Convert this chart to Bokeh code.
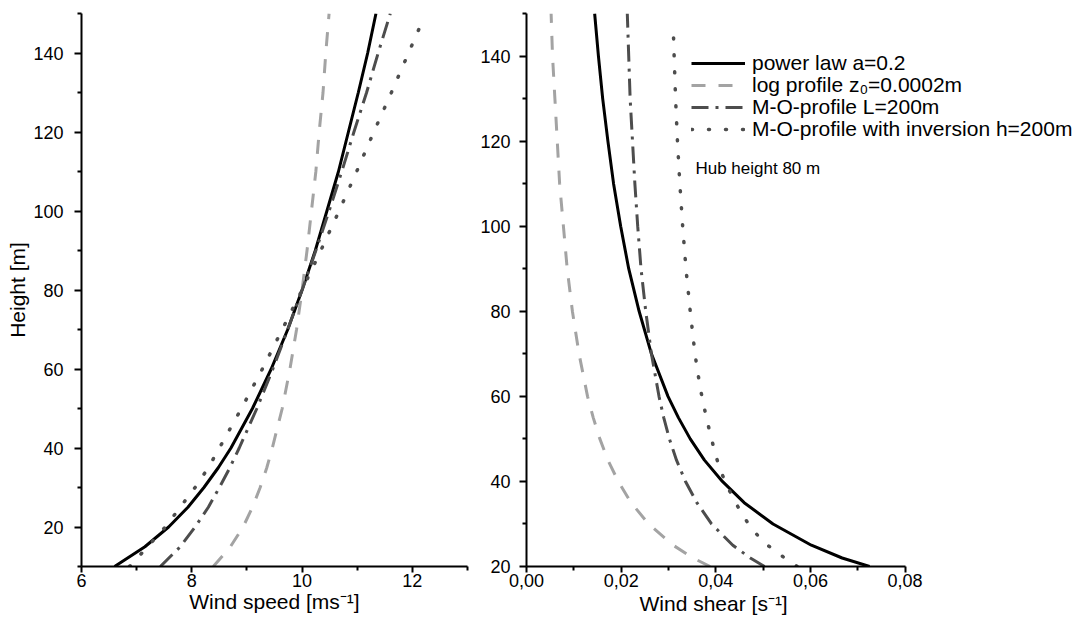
from bokeh.plotting import figure
from bokeh.layouts import row
from bokeh.models import Range1d, Legend, LegendItem, Label, FixedTicker, CustomJSTickFormatter, Title
from bokeh.embed import file_html
from bokeh.resources import INLINE

FONT = "Liberation Sans"

# ---------------- data: wind speed profiles (left panel) ----------------
height_speed = [10, 15, 20, 25, 30, 35, 40, 50, 60, 70, 80, 90, 100, 110, 120, 130, 140, 150]
speed_power_law = [6.60, 7.15, 7.58, 7.93, 8.22, 8.48, 8.71, 9.10, 9.44, 9.74, 10.00, 10.24, 10.45, 10.66, 10.84, 11.02, 11.19, 11.34]
speed_log = [8.39, 8.70, 8.93, 9.10, 9.24, 9.36, 9.46, 9.64, 9.78, 9.90, 10.00, 10.09, 10.17, 10.25, 10.31, 10.38, 10.43, 10.49]
speed_mo = [7.43, 7.79, 8.06, 8.30, 8.50, 8.69, 8.86, 9.18, 9.47, 9.74, 10.00, 10.25, 10.49, 10.72, 10.94, 11.17, 11.38, 11.60]
height_speed_inv = [10, 15, 20, 25, 30, 35, 40, 50, 60, 70, 80, 90, 100, 110, 120, 130, 140, 148]
speed_mo_inv = [6.87, 7.20, 7.52, 7.79, 8.06, 8.30, 8.50, 8.90, 9.28, 9.64, 10.00, 10.34, 10.67, 10.99, 11.30, 11.62, 11.93, 12.18]

# ---------------- data: wind shear profiles (right panel) ----------------
height_shear = [20, 22, 25, 30, 35, 40, 45, 50, 55, 60, 70, 80, 90, 100, 110, 120, 130, 140, 150]
shear_power_law = [0.0725, 0.0667, 0.0602, 0.0521, 0.0460, 0.0414, 0.0376, 0.0346, 0.0321, 0.0299, 0.0264, 0.0238, 0.0216, 0.0199, 0.0184, 0.0172, 0.0161, 0.0152, 0.0144]
shear_log = [0.0388, 0.0352, 0.0310, 0.0258, 0.0221, 0.0194, 0.0172, 0.0155, 0.0141, 0.0129, 0.0111, 0.0097, 0.0086, 0.0078, 0.0070, 0.0065, 0.0060, 0.0055, 0.0052]
shear_mo = [0.0503, 0.0473, 0.0436, 0.0391, 0.0360, 0.0336, 0.0317, 0.0302, 0.0290, 0.0280, 0.0264, 0.0252, 0.0242, 0.0235, 0.0229, 0.0224, 0.0219, 0.0216, 0.0213]
height_shear_inv = [20, 23, 26, 30, 34, 38, 42, 46, 50, 55, 62, 70, 80, 90, 100, 110, 120, 130, 140, 147]
shear_mo_inv = [0.0572, 0.0533, 0.0498, 0.0469, 0.0447, 0.0428, 0.0412, 0.0400, 0.0391, 0.0380, 0.0367, 0.0356, 0.0346, 0.0337, 0.0330, 0.0324, 0.0319, 0.0315, 0.0312, 0.0310]

series_labels = ["power law a=0.2", "log profile z\u2080=0.0002m", "M-O-profile L=200m",
                 "M-O-profile with inversion h=200m"]
hub_text = "Hub height 80 m"
speed_title = "Wind speed [ms\u207b\u00b9]"
shear_title = "Wind shear [s\u207b\u00b9]"
height_title = "Height [m]"

# ---------------- ticks ----------------
speed_ticks = [6, 8, 10, 12]
speed_minor = [7, 9, 11, 13]
height_ticks = [20, 40, 60, 80, 100, 120, 140]
height_minor_left = [10, 30, 50, 70, 90, 110, 130, 150]
height_minor_right = [30, 50, 70, 90, 110, 130, 150]
shear_ticks = [0.0, 0.02, 0.04, 0.06, 0.08]
shear_minor = [0.01, 0.03, 0.05, 0.07]
SHEAR_AXIS_END = 0.08

# ---------------- layout constants (pixels) ----------------
LEFT_FRAME_W = 386
RIGHT_AXIS_W = 382     # pixel length of the drawn 0..0.08 axis
P2_FRAME_W = 558       # right frame is wider (room for the legend); axis stops at 0.08
FRAME_H = 553
TOP, BOTTOM = 13, 64

styles = [
    dict(line_color="black", line_width=3),
    dict(line_color="#a3a3a3", line_width=3, line_dash="14 13"),
    dict(line_color="#4d4d4d", line_width=3, line_dash="17 7 3 7"),
    dict(line_color="#4d4d4d", line_width=3.5, line_dash="1 16", line_cap="round"),
]


def style_axes(p):
    for ax in p.axis:
        ax.axis_line_width = 2
        ax.axis_line_color = "black"
        ax.major_tick_line_width = 2
        ax.minor_tick_line_width = 2
        ax.major_tick_line_color = "black"
        ax.minor_tick_line_color = "black"
        ax.major_tick_out = 7
        ax.major_tick_in = 0
        ax.minor_tick_out = 4
        ax.minor_tick_in = 0
        ax.major_label_text_font = FONT
        ax.major_label_text_font_size = "18px"
        ax.major_label_text_color = "black"
        ax.axis_label_text_font = FONT
        ax.axis_label_text_font_size = "21px"
        ax.axis_label_text_font_style = "normal"
        ax.axis_label_text_color = "black"
    p.grid.visible = False
    p.outline_line_color = None
    p.background_fill_color = "white"
    p.border_fill_color = "white"


# ---------------- left panel ----------------
p1 = figure(width=81 + LEFT_FRAME_W + 10, height=TOP + FRAME_H + BOTTOM,
            x_range=Range1d(6, 13), y_range=Range1d(10, 150),
            output_backend="svg", toolbar_location=None,
            min_border_left=81, min_border_right=10, min_border_top=TOP, min_border_bottom=BOTTOM)
p1.line(speed_power_law, height_speed, **styles[0])
p1.line(speed_log, height_speed, **styles[1])
p1.line(speed_mo, height_speed, **styles[2])
p1.line(speed_mo_inv, height_speed_inv, **styles[3])
p1.xaxis.ticker = FixedTicker(ticks=speed_ticks, minor_ticks=speed_minor)
p1.yaxis.ticker = FixedTicker(ticks=height_ticks, minor_ticks=height_minor_left)
p1.xaxis.axis_label = speed_title
p1.yaxis.axis_label = height_title
style_axes(p1)
p1.xaxis.major_tick_out = 6
p1.xaxis.major_label_standoff = 1
p1.xaxis.axis_label_standoff = 0
p1.yaxis.major_label_standoff = 11
p1.yaxis.axis_label_standoff = 1

# ---------------- right panel ----------------
p2 = figure(width=44 + P2_FRAME_W + 1, height=TOP + FRAME_H + BOTTOM,
            x_range=Range1d(0, SHEAR_AXIS_END * P2_FRAME_W / RIGHT_AXIS_W), y_range=Range1d(20, 150),
            output_backend="svg", toolbar_location=None,
            min_border_left=44, min_border_right=1, min_border_top=TOP, min_border_bottom=BOTTOM)
r1 = p2.line(shear_power_law, height_shear, **styles[0])
r2 = p2.line(shear_log, height_shear, **styles[1])
r3 = p2.line(shear_mo, height_shear, **styles[2])
r4 = p2.line(shear_mo_inv, height_shear_inv, **styles[3])
p2.xaxis.ticker = FixedTicker(ticks=shear_ticks, minor_ticks=shear_minor)
p2.xaxis.bounds = (0, SHEAR_AXIS_END)
p2.yaxis.ticker = FixedTicker(ticks=height_ticks, minor_ticks=height_minor_right)
p2.xaxis.formatter = CustomJSTickFormatter(code="return tick.toFixed(2).replace('.', ',');")
style_axes(p2)
p2.xaxis.major_tick_out = 6
p2.xaxis.major_label_standoff = 1
p2.yaxis.major_label_standoff = 9

# x title of the right panel, centred under the drawn 0..0.08 axis (frame is wider)
p2.add_layout(Title(text=shear_title, align="left", offset=113, standoff=0,
                    text_font=FONT, text_font_size="21px", text_font_style="normal",
                    text_color="black"), "below")

# Legend: one single-row legend per series, rows 22 px apart (tight, as in the original)
LEG_X = 165          # px from frame left
ROW_CENTERS = [50, 72, 94, 116]   # px from frame top
ROW_HALF = 12
for lab, rend, yc in zip(series_labels, [r1, r2, r3, r4], ROW_CENTERS):
    lg = Legend(
        items=[LegendItem(label=lab, renderers=[rend])],
        location=(LEG_X, FRAME_H - (yc + ROW_HALF)),
        background_fill_alpha=0,
        border_line_color=None,
        label_text_font=FONT,
        label_text_font_size="21px",
        label_text_color="black",
        glyph_width=54,
        glyph_height=22,
        label_height=22,
        label_standoff=7,
        spacing=0,
        padding=0,
        margin=0,
    )
    p2.add_layout(lg)

p2.add_layout(Label(x=0.0357, y=113.5, text=hub_text, text_font=FONT, text_font_size="17px",
                    text_color="black", text_baseline="middle"))

layout = row(p1, p2)
open("out.html", "w").write(file_html(layout, INLINE))
